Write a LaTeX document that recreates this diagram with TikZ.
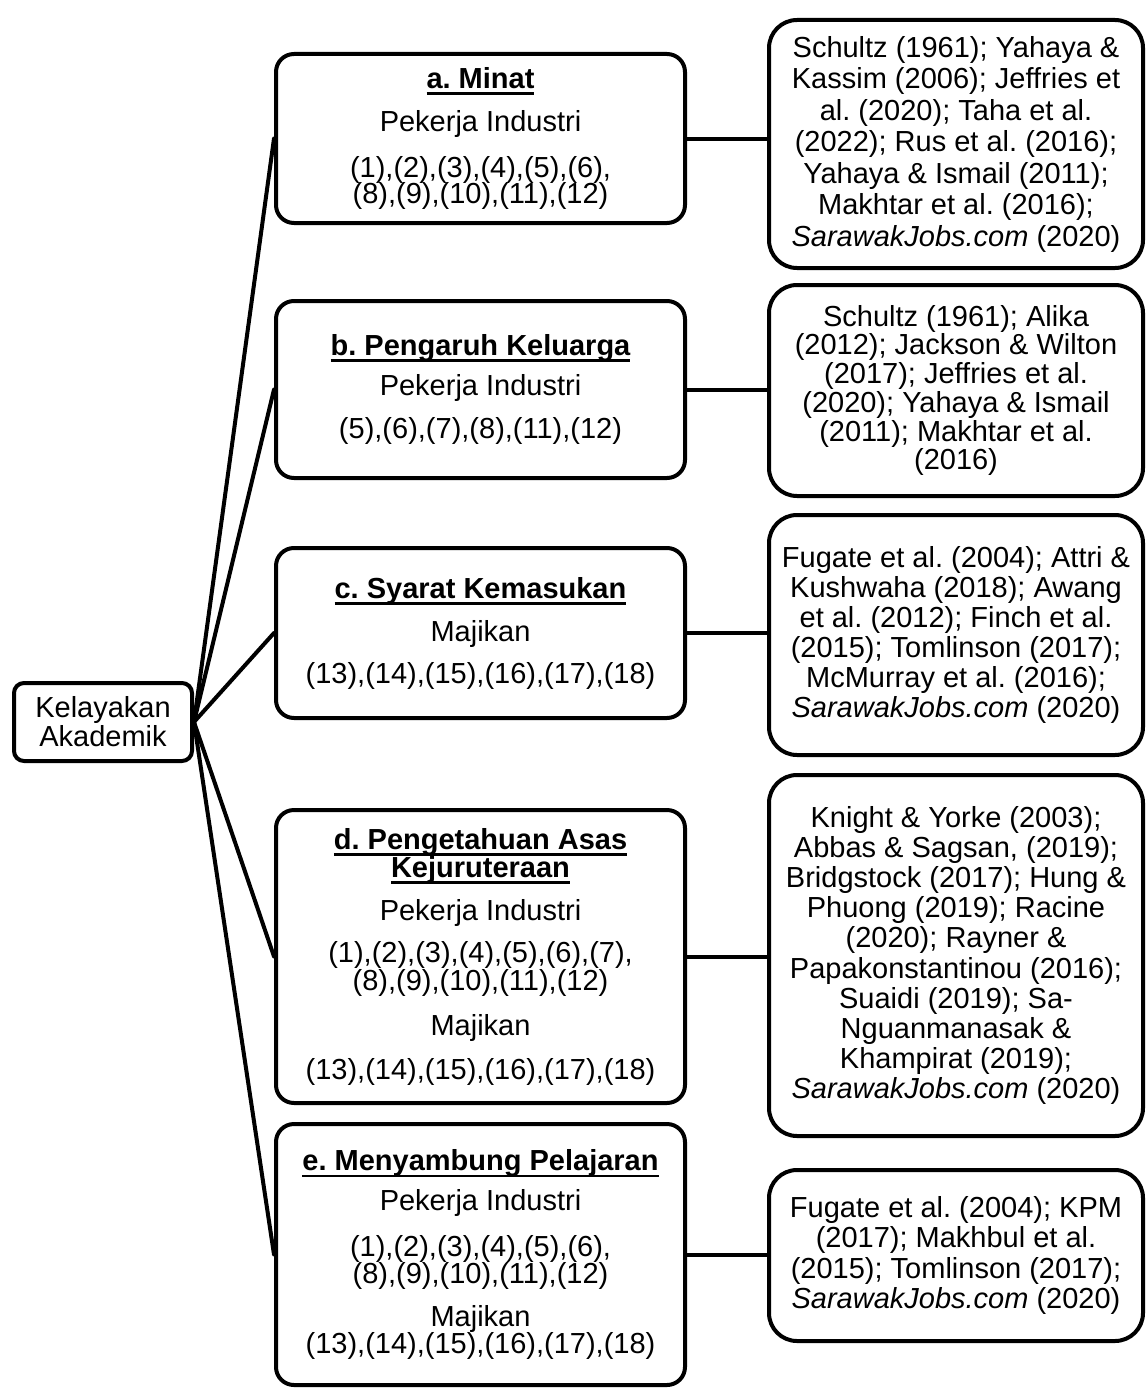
\documentclass[tikz,border=0pt]{standalone}
\usepackage{fontspec}
\setmainfont{Liberation Sans}
\frenchspacing
\newcommand\headline[1]{\setbox0=\hbox{\bfseries #1}\rlap{\rule[-6.5pt]{\wd0}{2.6pt}}\box0}
\newcommand\tightlines{\lineskiplimit=-100pt\lineskip=0pt\relax}
\begin{document}
\tightlines
\begin{tikzpicture}[x=1pt,y=-1pt,
  box/.style={draw=black, line width=4pt, rectangle, align=center, inner sep=0pt, fill=white},
  rootbox/.style={box, rounded corners=10pt, minimum width=178pt, minimum height=78pt,
    font=\fontsize{29}{29}\selectfont\tightlines},
  midbox/.style={box, rounded corners=18pt, minimum width=409pt, minimum height=#1,
    font=\fontsize{29}{26.5}\selectfont\tightlines},
  refbox/.style 2 args={box, rounded corners=28pt, minimum width=374pt, minimum height=#1,
    font=\fontsize{29}{#2}\selectfont\tightlines},
  link/.style={line width=4pt, line cap=round}]
\useasboundingbox (0,0) rectangle (1148,1389);

% root
\node[rootbox] (root) at (103,722) {Kelayakan\\Akademik};

% criteria
\node[midbox=169pt] (ma) at (480.5,138.5) {\headline{a. Minat}\\[16pt]
  Pekerja Industri\\[19.5pt]
  (1),(2),(3),(4),(5),(6),\\(8),(9),(10),(11),(12)};
\node[midbox=177pt] (mb) at (480.5,389.5) {\headline{b. Pengaruh Keluarga}\\[13.5pt]
  Pekerja Industri\\[16.5pt]
  (5),(6),(7),(8),(11),(12)};
\node[midbox=170pt] (mc) at (480.5,633) {\headline{c. Syarat Kemasukan}\\[16.5pt]
  Majikan\\[15.5pt]
  (13),(14),(15),(16),(17),(18)};
\node[midbox=293pt] (md) at (480.5,956.5) {\headline{d. Pengetahuan Asas}\\[1.5pt]
  \headline{Kejuruteraan}\\[16.5pt]
  Pekerja Industri\\[15.5pt]
  (1),(2),(3),(4),(5),(6),(7),\\[1.5pt](8),(9),(10),(11),(12)\\[18.5pt]
  Majikan\\[17.5pt]
  (13),(14),(15),(16),(17),(18)};
\node[midbox=261pt] (me) at (480.5,1254.5) {\headline{e. Menyambung Pelajaran}\\[13.5pt]
  Pekerja Industri\\[19.5pt]
  (1),(2),(3),(4),(5),(6),\\[0.5pt](8),(9),(10),(11),(12)\\[16.5pt]
  Majikan\\
  (13),(14),(15),(16),(17),(18)};

% references
\node[refbox={248pt}{31.5}] (ra) at (956,144) {Schultz (1961); Yahaya \&\\
  Kassim (2006); Jeffries et\\al. (2020); Taha et al.\\(2022); Rus et al. (2016);\\
  Yahaya \& Ismail (2011);\\Makhtar et al. (2016);\\\textit{SarawakJobs.com} (2020)};
\node[refbox={211pt}{28.7}] (rb) at (956,390.5) {Schultz (1961); Alika\\
  (2012); Jackson \& Wilton\\(2017); Jeffries et al.\\(2020); Yahaya \& Ismail\\
  (2011); Makhtar et al.\\(2016)};
\node[refbox={240pt}{30}] (rc) at (956,635) {Fugate et al. (2004); Attri \&\\
  Kushwaha (2018); Awang\\et al. (2012); Finch et al.\\(2015); Tomlinson (2017);\\
  McMurray et al. (2016);\\\textit{SarawakJobs.com} (2020)};
\node[refbox={361pt}{30.2}] (rd) at (956,955.5) {Knight \& Yorke (2003);\\
  Abbas \& Sagsan, (2019);\\Bridgstock (2017); Hung \&\\Phuong (2019); Racine\\
  (2020); Rayner \&\\Papakonstantinou (2016);\\Suaidi (2019); Sa-\\
  Nguanmanasak \&\\Khampirat (2019);\\\textit{SarawakJobs.com} (2020)};
\node[refbox={171pt}{30.5}] (re) at (956,1255.5) {Fugate et al. (2004); KPM\\
  (2017); Makhbul et al.\\(2015); Tomlinson (2017);\\\textit{SarawakJobs.com} (2020)};

% fan from the root to each criterion
\foreach \m in {ma,mb,mc,md,me}
  \draw[link] (root.east) -- (\m.west);

% criterion to its references
\foreach \m/\r in {ma/ra,mb/rb,mc/rc,md/rd,me/re}
  \draw[link] (\m.east) -- (\m.east -| \r.west);
\end{tikzpicture}
\end{document}
